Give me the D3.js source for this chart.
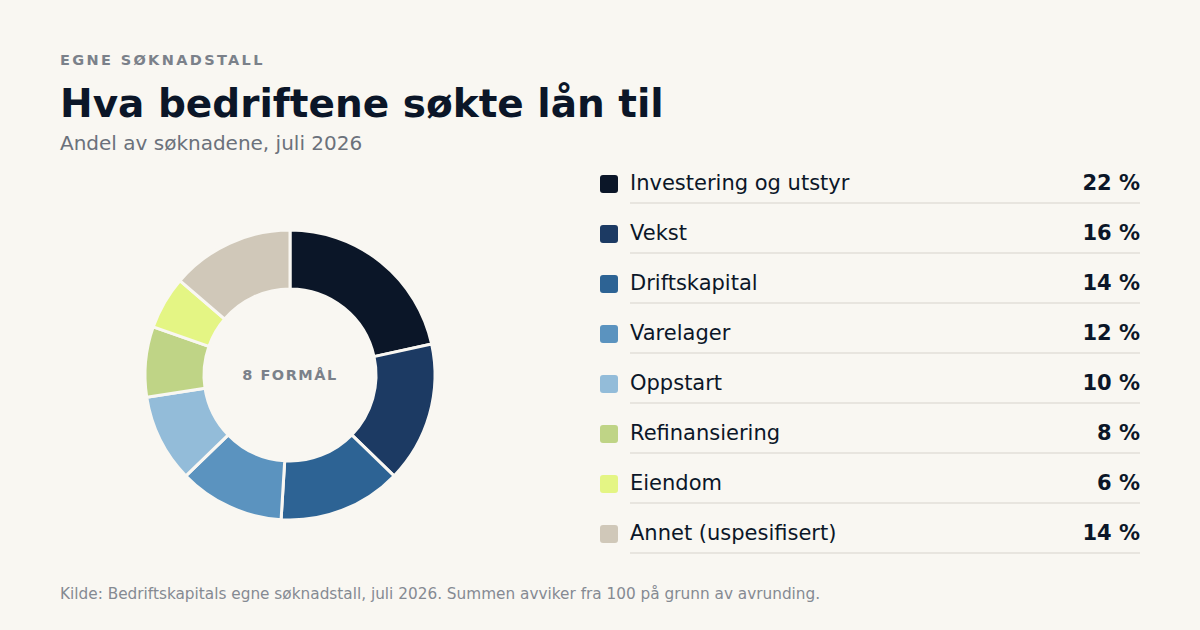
<!DOCTYPE html>
<html><head><meta charset="utf-8">
<script src="https://cdn.jsdelivr.net/npm/d3@7"></script>
<style>
html,body{margin:0;padding:0;background:#f9f7f2;}
svg{display:block;font-family:"DejaVu Sans",sans-serif;}
</style></head>
<body>
<svg id="c" width="1200" height="630"></svg>
<script>
const categories = ["Investering og utstyr","Vekst","Driftskapital","Varelager","Oppstart","Refinansiering","Eiendom","Annet (uspesifisert)"];
const values = [22,16,14,12,10,8,6,14];
const colors = ["#0b1628","#1c3a63","#2d6394","#5b93bf","#93bcd9","#bfd486","#e4f584","#d0c8b9"];

const svg = d3.select("#c");
svg.append("rect").attr("width",1200).attr("height",630).attr("fill","#f9f7f2");

svg.append("text").attr("x",60).attr("y",65).text("EGNE SØKNADSTALL")
  .attr("font-size",14.5).attr("font-weight","bold").attr("letter-spacing","2.35px").attr("fill","#7b818a");
svg.append("text").attr("x",60).attr("y",117).text("Hva bedriftene søkte lån til")
  .attr("font-size",39).attr("font-weight","bold").attr("fill","#0b1628");
svg.append("text").attr("x",60).attr("y",150).text("Andel av søknadene, juli 2026")
  .attr("font-size",20).attr("fill","#6b717b");

const data = categories.map((c,i)=>({c, v:values[i], col:colors[i]}));
const pie = d3.pie().value(d=>d.v).sort(null);
const arc = d3.arc().innerRadius(86).outerRadius(145);
const g = svg.append("g").attr("transform","translate(290,375)");
g.selectAll("path").data(pie(data)).join("path")
  .attr("d",arc).attr("fill",d=>d.data.col)
  .attr("stroke","#f9f7f2").attr("stroke-width",3);
g.append("text").attr("text-anchor","middle").attr("dy","0.35em")
  .text(categories.length + " FORMÅL")
  .attr("font-size",14.5).attr("font-weight","bold").attr("letter-spacing","1.5px").attr("fill","#7b818a");

const y = d3.scaleBand().domain(categories).range([158,558]);
const rows = svg.selectAll("g.row").data(data).join("g").attr("class","row")
  .attr("transform",d=>`translate(0,${y(d.c)})`);
rows.append("rect").attr("x",600).attr("y",17).attr("width",18).attr("height",18).attr("rx",3).attr("fill",d=>d.col);
rows.append("text").attr("x",630).attr("y",32).text(d=>d.c).attr("font-size",21).attr("fill","#0b1628");
rows.append("text").attr("x",1140).attr("y",32).attr("text-anchor","end").text(d=>d.v+" %")
  .attr("font-size",21).attr("font-weight","bold").attr("fill","#0b1628");
rows.append("line").attr("x1",630).attr("x2",1140).attr("y1",45).attr("y2",45)
  .attr("stroke","#e8e5df").attr("stroke-width",2);

svg.append("text").attr("x",60).attr("y",599)
  .text("Kilde: Bedriftskapitals egne søknadstall, juli 2026. Summen avviker fra 100 på grunn av avrunding.")
  .attr("font-size",15.3).attr("fill","#858a92");
</script>
</body></html>
